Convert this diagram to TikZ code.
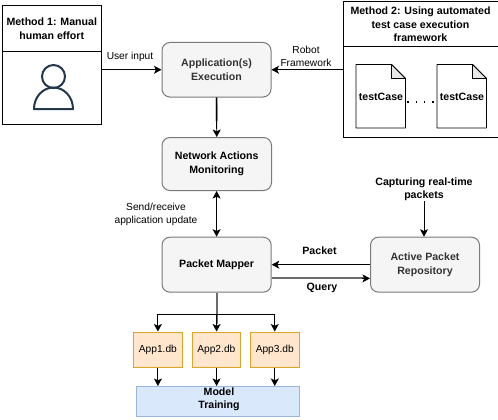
\documentclass[tikz,border=0pt]{standalone}
\usepackage{fontspec}
\setmainfont{Liberation Sans}
\usetikzlibrary{arrows.meta,calc}
\definecolor{procfill}{HTML}{F5F5F5}
\definecolor{procline}{HTML}{7A7A7A}
\definecolor{dbfill}{HTML}{FFE6CC}
\definecolor{dbline}{HTML}{E0A526}
\definecolor{trainfill}{HTML}{DAE8FC}
\definecolor{trainline}{HTML}{9DB5D8}
\definecolor{iconcol}{HTML}{23374D}
\tikzset{
  x=1pt,y=-1pt,
  base/.style={inner sep=0pt,align=center,font=\fontsize{10.2}{13.5}\selectfont},
  boldtext/.style={font=\fontsize{10.6}{13.5}\selectfont\bfseries},
  boxat/.style n args={4}{minimum width=(#3-#1)*1pt,minimum height=(#4-#2)*1pt,anchor=north west,at={(#1,#2)}},
  plainbox/.style={base,boldtext,draw=black,line width=1pt,fill=white},
  procbox/.style={base,boldtext,draw=procline,line width=1pt,fill=procfill,rounded corners=8pt},
  dbbox/.style={base,draw=dbline,line width=1pt,fill=dbfill},
  trainbox/.style={base,boldtext,draw=trainline,line width=1.2pt,fill=trainfill},
  lbl/.style={base},
  blbl/.style={base,boldtext},
  conn/.style={draw=black,line width=0.9pt,-{Stealth[length=7.5pt,width=8pt,inset=1.8pt]}},
  greyline/.style={draw=black!58,line width=2pt},
  docfold/.style={draw=black,line width=0.8pt,fill=black!9,line join=round},
}
\begin{document}
\begin{tikzpicture}
\useasboundingbox (0,0) rectangle (498,420);

% Method 1
\node[plainbox,boxat={1.5}{5.5}{101}{51}] (m1head) {Method 1: Manual\\human effort};
\node[plainbox,boxat={1.5}{51}{101}{123.5}] (m1body) {};
\draw[line width=2pt,color=iconcol] (53.5,76.5) circle[radius=11.5];
\draw[line width=2pt,color=iconcol,line join=round]
  (34,109) arc[start angle=180,end angle=0,x radius=19.5,y radius=-21.5] -- cycle;

% Method 2
\node[plainbox,boxat={342.5}{1}{497.5}{46.5}] (m2head) {Method 2: Using automated\\test case execution\\framework};
\node[plainbox,boxat={342.5}{46.5}{497.5}{137}] (m2body) {};

% documents
\foreach \nm/\xa in {doca/356,docb/437}{
  \node[base,boldtext,boxat={\xa}{64.5}{\xa+49.5}{128}] (\nm) {testCase};
  \draw[line width=0.8pt,line join=round] (\xa,64.5) -- (\xa+35.5,64.5) -- (\xa+49.5,78.5) -- (\xa+49.5,128) -- (\xa,128) -- cycle;
  \draw[docfold] (\xa+35.5,64.5) -- (\xa+49.5,78.5) -- (\xa+35.5,78.5) -- cycle;
}
\draw[line width=1.6pt,dash pattern=on 1.6pt off 6.6pt] ($(doca.south east)!0.41!(doca.north east)+(1.5,0)$) -- ($(docb.south west)!0.41!(docb.north west)$);

% Process boxes
\node[procbox,boxat={161.5}{42}{270.5}{96.5},text=black!80] (app) {Application(s)\\Execution};
\node[procbox,boxat={161.5}{137}{271}{190}] (net) {Network Actions\\Monitoring};
\node[procbox,boxat={161.5}{236.7}{270.7}{291.7}] (map) {Packet Mapper};
\node[procbox,boxat={370}{236.7}{479}{291.7},text=black!80] (rep) {Active Packet\\Repository};

% Databases
\node[dbbox,boxat={133.3}{331.5}{181.5}{366.5}] (db1) {App1.db};
\node[dbbox,boxat={191.7}{331.5}{240}{366.5}] (db2) {App2.db};
\node[dbbox,boxat={250}{331.5}{298.5}{366.5}] (db3) {App3.db};
\node[trainbox,boxat={136}{386}{299}{416}] (train) {};
\node[blbl,at={(219,399.5)}] (trainlbl) {Model\\Training};

% Free-standing labels
\node[lbl,at={(130,57)}] (luser) {User input};
\node[lbl,at={(306,56.5)}] (lrobot) {Robot\\Framework};
\node[lbl,at={(156,214.5)}] (lsend) {Send/receive\\application update};
\node[blbl,at={(319.5,250.5)}] (lpacket) {Packet};
\node[blbl,at={(322,287.5)}] (lquery) {Query};
\node[blbl,at={(424,189.5)}] (lcap) {Capturing real-time\\packets};

% Connectors
\draw[conn] (m1body.east |- app.west) -- (app.west);
\draw[conn] (m2body.west |- app.east) -- (app.east);
\draw[greyline] (app.south) -- ($(app.south)!0.6!(net.north)$);
\draw[conn] (app.south) -- (net.north);
\draw[conn,{Stealth[length=7.5pt,width=8pt,inset=1.8pt]}-{Stealth[length=7.5pt,width=8pt,inset=1.8pt]}] (net.south -| map.north) -- (map.north);
\coordinate (bus) at ($(map.south)+(0,21.3)$);
\draw[greyline] (map.south) -- ($(db2.north -| map.south)+(0,-8)$);
\draw[conn] (bus) -| (db1.north);
\draw[conn] (bus) -| (db3.north);
\draw[conn] (bus) -- (db2.north -| map.south);
\draw[conn] (db1.south) -- (db1.south |- train.north);
\draw[conn] (db2.south -| map.south) -- (train.north -| map.south);
\draw[conn] (db3.south) -- (db3.south |- train.north);
\draw[conn] (rep.west) -- (map.east);
\coordinate (qa) at ($(map.east)+(0,13.7)$);
\coordinate (qb) at ($(rep.west)+(0,13.7)$);
\draw[greyline] (qa) -- ($(qb)+(-6,0)$);
\draw[conn] ($(qb)+(-8,0)$) -- (qb);
\draw[conn] (lcap.south) -- (rep.north -| lcap.south);
\end{tikzpicture}
\end{document}
